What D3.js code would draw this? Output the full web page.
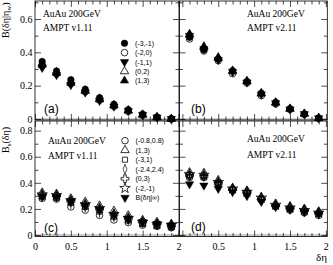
<!DOCTYPE html>
<html>
<head>
<meta charset="utf-8">
<script src="https://cdn.jsdelivr.net/npm/d3@7"></script>
<style>
  body { margin: 0; background: #fff; }
  svg { display: block; }
</style>
</head>
<body>
<div id="chart"></div>
<script>
// delta-eta bin centres
const deta = [0.1, 0.3, 0.5, 0.7, 0.9, 1.1, 1.3, 1.5, 1.7, 1.9];

// eta windows (legend text)
const windowsTop = ['(-3,-1)', '(-2,0)', '(-1,1)', '(0,2)', '(1,3)'];
const windowsBottom = ['(-0.8,0.8)', '(1,3)', '(-3,1)', '(-2.4,2.4)', '(0,3)', '(-2,-1)', 'B(δη|∞)'];

// (a) AMPT v1.11, B(δη|η_w)
const valuesA = [
  [0.345, 0.288, 0.236, 0.178, 0.128, 0.088, 0.056, 0.029, 0.012, 0.002],
  [0.320, 0.270, 0.212, 0.163, 0.113, 0.076, 0.045, 0.022, 0.008, 0.000],
  [0.308, 0.265, 0.205, 0.160, 0.110, 0.075, 0.048, 0.025, 0.010, 0.001],
  [0.325, 0.276, 0.216, 0.168, 0.117, 0.080, 0.050, 0.025, 0.010, 0.000],
  [0.335, 0.281, 0.225, 0.172, 0.122, 0.084, 0.052, 0.027, 0.011, 0.001]
];
// (b) AMPT v2.11, B(δη|η_w)
const valuesB = [
  [0.490, 0.415, 0.360, 0.290, 0.225, 0.155, 0.100, 0.062, 0.030, 0.006],
  [0.480, 0.408, 0.350, 0.272, 0.216, 0.140, 0.090, 0.057, 0.028, 0.004],
  [0.500, 0.420, 0.355, 0.282, 0.220, 0.148, 0.095, 0.058, 0.030, 0.005],
  [0.505, 0.430, 0.365, 0.286, 0.225, 0.152, 0.097, 0.060, 0.031, 0.006],
  [0.510, 0.435, 0.370, 0.290, 0.228, 0.155, 0.100, 0.062, 0.032, 0.006]
];
// (c) AMPT v1.11, B_s(δη)
const valuesC = [
  [0.280, 0.275, 0.215, 0.190, 0.150, 0.115, 0.095, 0.075, 0.065, 0.055],
  [0.325, 0.315, 0.280, 0.255, 0.225, 0.185, 0.150, 0.115, 0.100, 0.085],
  [0.290, 0.285, 0.245, 0.215, 0.180, 0.140, 0.110, 0.085, 0.070, 0.060],
  [0.300, 0.295, 0.255, 0.225, 0.190, 0.150, 0.120, 0.095, 0.080, 0.070],
  [0.305, 0.300, 0.260, 0.230, 0.200, 0.155, 0.125, 0.100, 0.085, 0.070],
  [0.310, 0.305, 0.265, 0.235, 0.205, 0.160, 0.130, 0.100, 0.085, 0.075],
  [0.295, 0.290, 0.260, 0.225, 0.195, 0.155, 0.125, 0.100, 0.085, 0.075]
];
// (d) AMPT v2.11, B_s(δη)
const valuesD = [
  [0.460, 0.455, 0.400, 0.350, 0.320, 0.280, 0.220, 0.190, 0.170, 0.150],
  [0.480, 0.475, 0.420, 0.360, 0.340, 0.290, 0.240, 0.220, 0.200, 0.180],
  [0.440, 0.440, 0.390, 0.345, 0.320, 0.275, 0.220, 0.200, 0.185, 0.165],
  [0.450, 0.450, 0.400, 0.350, 0.325, 0.280, 0.225, 0.210, 0.190, 0.170],
  [0.455, 0.450, 0.395, 0.350, 0.330, 0.275, 0.225, 0.205, 0.190, 0.170],
  [0.465, 0.460, 0.405, 0.355, 0.330, 0.285, 0.230, 0.210, 0.190, 0.170],
  [0.390, 0.380, 0.355, 0.330, 0.300, 0.255, 0.215, 0.195, 0.175, 0.160]
];

const xMajor = [0, 0.5, 1, 1.5, 2];
const yMajorTop = [0, 0.2, 0.4, 0.6];
const yMajorBottom = [0, 0.2, 0.4, 0.6, 0.8];

const markersTop = ['circleF', 'circleO', 'triDownF', 'triO', 'triF'];
const markersBottom = ['circleO', 'triO', 'squareO', 'diamondO', 'crossO', 'starO', 'triDownF'];

const W = 333, H = 265;
const serif = '"Liberation Serif", "DejaVu Serif", serif';
const sans = '"Liberation Sans", Arial, sans-serif';

const svg = d3.select('#chart').append('svg')
  .attr('width', W).attr('height', H)
  .attr('viewBox', `0 0 ${W} ${H}`);

// panel layout
const panels = [
  { name: '(a)', values: valuesA, markers: markersTop, version: 'AMPT v1.11',
    xr: [35, 179], xd: [0, 2.007], yr: [120, 1], yd: [-0.006, 0.708], yMajor: yMajorTop,
    left: true, bottom: false, text: [43, 17, 31], tag: [44, 113], legend: { names: windowsTop, x: 124.5, y: 43.3, dy: 9.35 } },
  { name: '(b)', values: valuesB, markers: markersTop, version: 'AMPT v2.11',
    xr: [179.5, 327.3], xd: [-0.04, 2.02], yr: [120, 1], yd: [-0.006, 0.708], yMajor: yMajorTop,
    left: false, bottom: false, text: [247, 17, 31], tag: [191, 113] },
  { name: '(c)', values: valuesC, markers: markersBottom, version: 'AMPT v1.11',
    xr: [35, 179], xd: [0, 2.007], yr: [236.5, 121], yd: [-0.0115, 0.874], yMajor: yMajorBottom,
    left: true, bottom: true, text: [48, 144, 159], tag: [44, 232], legend: { names: windowsBottom, x: 125, y: 140.7, dy: 9.5 } },
  { name: '(d)', values: valuesD, markers: markersBottom, version: 'AMPT v2.11',
    xr: [179.5, 327.3], xd: [-0.04, 2.02], yr: [236.5, 121], yd: [-0.0115, 0.874], yMajor: yMajorBottom,
    left: false, bottom: true, text: [247, 142, 158], tag: [191, 231] }
];

function markerShape(kind) {
  const base = kind.replace(/[FO]$/, '');
  const types = {
    circle: [d3.symbolCircle, 34], tri: [d3.symbolTriangle, 30], triDown: [d3.symbolTriangle, 30],
    square: [d3.symbolSquare, 26], diamond: [d3.symbolDiamond, 30], cross: [d3.symbolCross, 34],
    star: [d3.symbolStar, 34]
  };
  const t = types[base];
  let extra = '';
  if (base === 'triDown') extra = ' rotate(180)';
  if (base === 'diamond') extra = ' scale(0.65,1)';
  return { d: d3.symbol(t[0], t[1])(), extra: extra, filled: kind.endsWith('F') };
}

function drawMarker(g, kind, cx, cy) {
  const m = markerShape(kind);
  g.append('path')
    .attr('d', m.d)
    .attr('transform', `translate(${cx},${cy})${m.extra}`)
    .attr('fill', m.filled ? '#000' : 'none')
    .attr('stroke', '#000')
    .attr('stroke-width', m.filled ? 0.5 : 0.8);
}

function fmt(d) { return String(d); }

function drawAxes(g, p, x, y) {
  const major = 6, minor = 3.5;
  const xMinor = d3.range(0, 21).map(i => i / 10).filter(v => !xMajor.includes(v));
  const yTop = p.yMajor === yMajorTop ? 7 : 8;
  const yMinor = d3.range(0, yTop + 1).map(i => i / 10).filter(v => !p.yMajor.some(m => Math.abs(m - v) < 1e-9));

  const axes = [
    [d3.axisBottom(x).tickValues(xMajor).tickSize(-major), p.yr[0], 'x', p.bottom],
    [d3.axisBottom(x).tickValues(xMinor).tickSize(-minor), p.yr[0], 'x', false],
    [d3.axisTop(x).tickValues(xMajor).tickSize(-major), p.yr[1], 'x', false],
    [d3.axisTop(x).tickValues(xMinor).tickSize(-minor), p.yr[1], 'x', false],
    [d3.axisLeft(y).tickValues(p.yMajor).tickSize(-major), p.xr[0], 'y', p.left],
    [d3.axisLeft(y).tickValues(yMinor).tickSize(-minor), p.xr[0], 'y', false],
    [d3.axisRight(y).tickValues(p.yMajor).tickSize(-major), p.xr[1], 'y', false],
    [d3.axisRight(y).tickValues(yMinor).tickSize(-minor), p.xr[1], 'y', false]
  ];
  axes.forEach(([ax, pos, dir, labels]) => {
    ax.tickFormat(labels ? fmt : '').tickSizeOuter(0);
    if (dir === 'x') {
      ax.tickPadding(6);
      if (labels && p.xd[0] < 0) ax.tickFormat(d => d === 0 ? '' : fmt(d));
    } else {
      ax.tickPadding(2.5);
    }
    const a = g.append('g')
      .attr('transform', dir === 'x' ? `translate(0,${pos})` : `translate(${pos},0)`)
      .call(ax);
    a.select('.domain').remove();
    a.selectAll('line').attr('stroke', '#000').attr('stroke-width', 0.7);
    a.selectAll('text').attr('font-family', serif).attr('font-size', 10).attr('fill', '#000');
  });
}

panels.forEach(p => {
  const g = svg.append('g');
  const x = d3.scaleLinear().domain(p.xd).range(p.xr);
  const y = d3.scaleLinear().domain(p.yd).range(p.yr);

  // zero line
  g.append('line')
    .attr('x1', p.xr[0]).attr('x2', p.xr[1])
    .attr('y1', y(0)).attr('y2', y(0))
    .attr('stroke', '#bbb').attr('stroke-width', 1.5);

  drawAxes(g, p, x, y);

  g.append('rect')
    .attr('x', p.xr[0]).attr('y', p.yr[1])
    .attr('width', p.xr[1] - p.xr[0]).attr('height', p.yr[0] - p.yr[1])
    .attr('fill', 'none').attr('stroke', '#000').attr('stroke-width', 0.8);

  // data with small error bars
  const err = p.yMajor === yMajorTop ? 0.012 : 0.016;
  p.values.forEach((series, si) => {
    const sg = g.append('g');
    series.forEach((v, i) => {
      sg.append('line')
        .attr('x1', x(deta[i])).attr('x2', x(deta[i]))
        .attr('y1', y(v - err)).attr('y2', y(v + err))
        .attr('stroke', '#000').attr('stroke-width', 0.8);
      drawMarker(sg, p.markers[si], x(deta[i]), y(v));
    });
  });

  // labels
  g.append('text').attr('x', p.text[0]).attr('y', p.text[1])
    .attr('font-family', serif).attr('font-size', 9.5).text('AuAu 200GeV');
  g.append('text').attr('x', p.text[0]).attr('y', p.text[2])
    .attr('font-family', serif).attr('font-size', 9.5).text(p.version);
  g.append('text').attr('x', p.tag[0]).attr('y', p.tag[1])
    .attr('font-family', sans).attr('font-size', 12).text(p.name);

  if (p.legend) {
    p.legend.names.forEach((name, i) => {
      const cy = p.legend.y + i * p.legend.dy;
      drawMarker(g, p.markers[i], p.legend.x, cy);
      g.append('text').attr('x', p.legend.x + 10.5).attr('y', cy + 2.5)
        .attr('font-family', sans).attr('font-size', 7).text(name);
    });
  }
});

// axis titles
const t1 = svg.append('text').attr('transform', 'translate(9,38) rotate(-90)')
  .attr('font-family', serif).attr('font-size', 10);
t1.append('tspan').text('B(δη|η');
t1.append('tspan').attr('font-size', 7).attr('dy', 2).text('w');
t1.append('tspan').attr('dy', -2).text(')');

const t2 = svg.append('text').attr('transform', 'translate(9,153) rotate(-90)')
  .attr('font-family', serif).attr('font-size', 10);
t2.append('tspan').text('B');
t2.append('tspan').attr('font-size', 7).attr('dy', 2).text('s');
t2.append('tspan').attr('dy', -2).text('(δη)');

svg.append('text').attr('x', 327).attr('y', 261).attr('text-anchor', 'end')
  .attr('font-family', serif).attr('font-size', 11).text('δη');
</script>
</body>
</html>
